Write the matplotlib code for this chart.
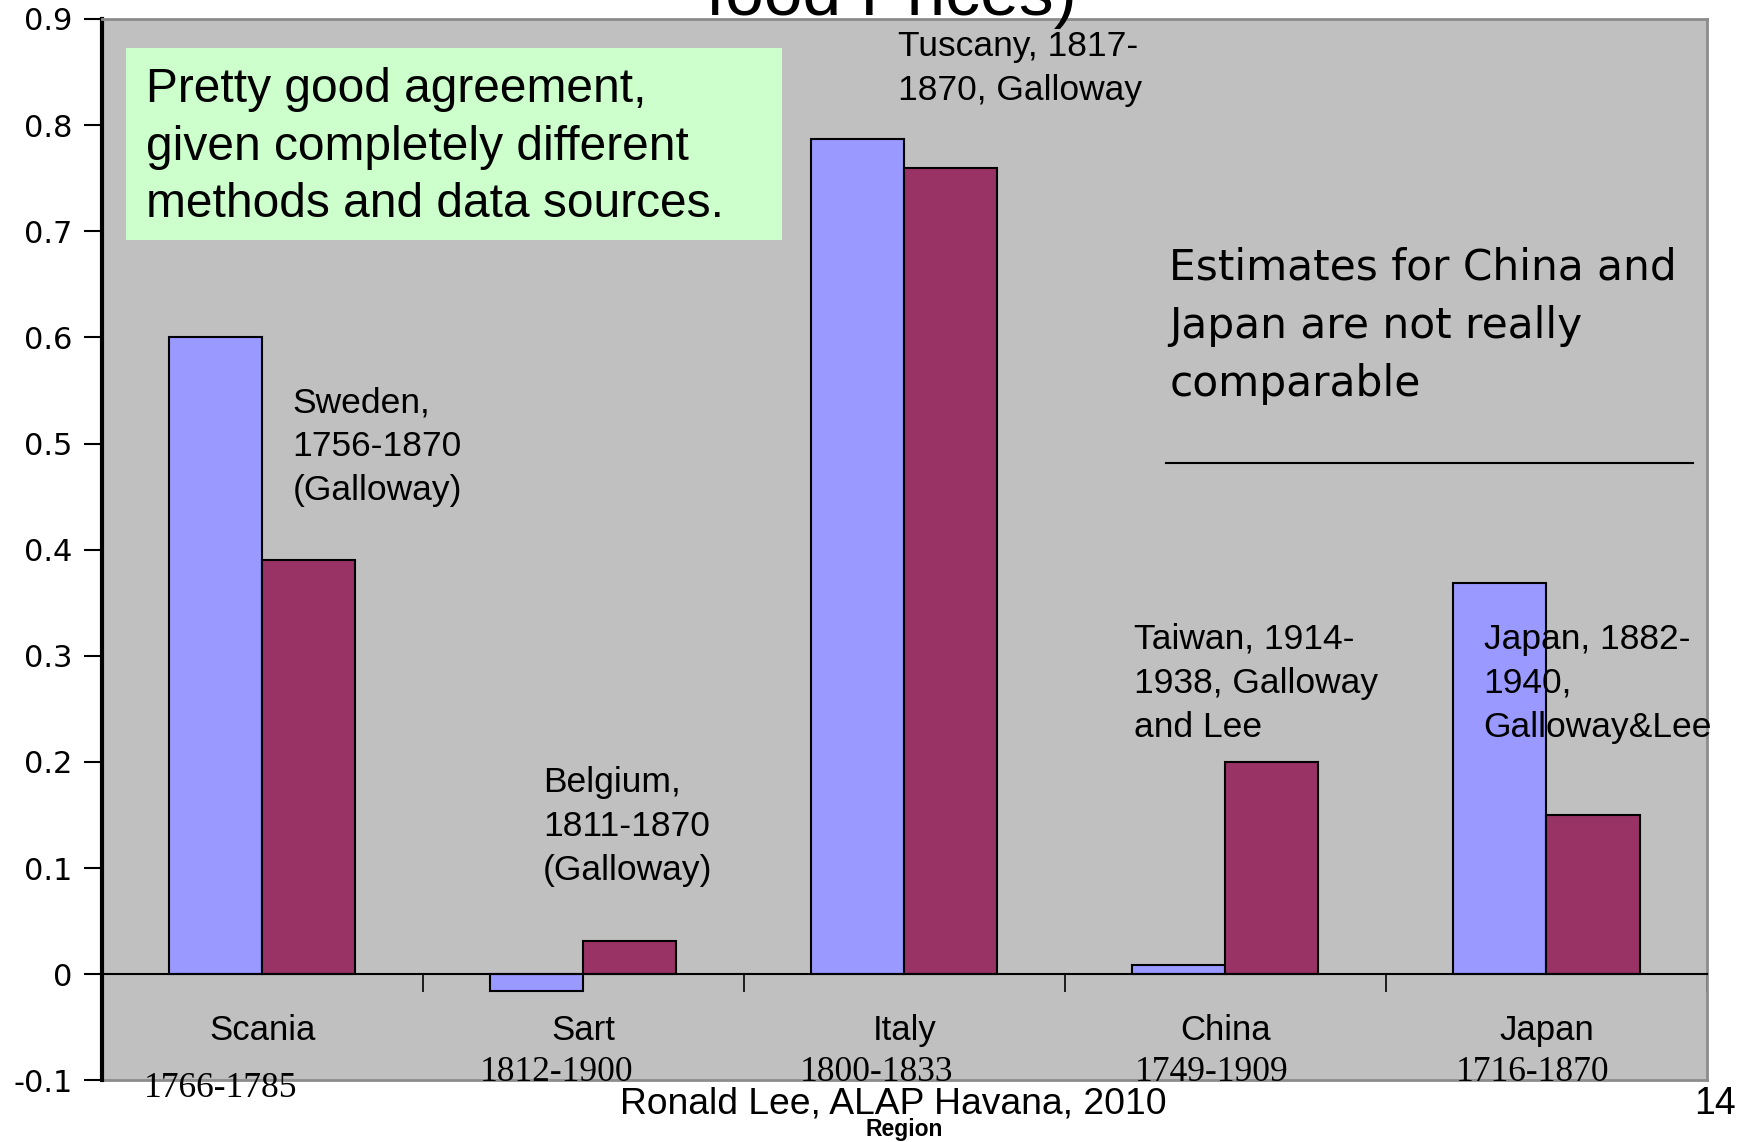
import matplotlib
matplotlib.use("Agg")
import matplotlib.pyplot as plt
from matplotlib.patches import Rectangle

regions = ["Scania", "Sart", "Italy", "China", "Japan"]
periods = ["1766-1785", "1812-1900", "1800-1833", "1749-1909", "1716-1870"]
series_a = [0.600, -0.016, 0.787, 0.009, 0.369]
series_b = [0.390, 0.031, 0.760, 0.200, 0.150]
yticks = [-0.1, 0, 0.1, 0.2, 0.3, 0.4, 0.5, 0.6, 0.7, 0.8, 0.9]
ytick_labels = ["-0.1", "0", "0.1", "0.2", "0.3", "0.4", "0.5", "0.6", "0.7", "0.8", "0.9"]

BLUE = "#9999FF"
RED = "#993366"
BG = "#C0C0C0"
SANS = ["Liberation Sans", "DejaVu Sans"]

fig = plt.figure(figsize=(17.52, 11.42), dpi=100)
ax = fig.add_axes([0.058, 0.054, 0.9163, 0.9294])
ax.set_facecolor(BG)

x = list(range(len(regions)))
w = 0.29
ax.bar([i - w / 2 for i in x], series_a, width=w, color=BLUE, edgecolor="black", linewidth=1.5, zorder=3)
ax.bar([i + w / 2 for i in x], series_b, width=w, color=RED, edgecolor="black", linewidth=1.5, zorder=3)

ax.set_xlim(-0.5, 4.5)
ax.set_ylim(-0.1, 0.9)
ax.set_yticks(yticks)
ax.set_yticklabels(ytick_labels, fontsize=22, family="DejaVu Sans")
ax.tick_params(axis="y", direction="out", length=13, width=1.5, pad=8)

# x axis at zero with boundary ticks
ax.spines["bottom"].set_position(("data", 0))
ax.spines["bottom"].set_linewidth(1.5)
ax.spines["bottom"].set_zorder(4)
ax.set_xticks([0.5, 1.5, 2.5, 3.5, 4.5])
ax.set_xticklabels([])
ax.tick_params(axis="x", direction="out", length=13, width=1.2)
ax.spines["left"].set_linewidth(3)
for s in ["top", "right"]:
    ax.spines[s].set_color("#8C8C8C")
    ax.spines[s].set_linewidth(2)
ax.axhline(-0.1, color="#8C8C8C", lw=2, clip_on=False)

# category labels
for i, r in enumerate(regions):
    ax.text(i, -0.053, r, ha="center", va="center", fontsize=25, family=SANS)
period_pos = [(-0.128, -0.108), (0.916, -0.093), (1.915, -0.093), (2.958, -0.093), (3.957, -0.093)]
for (px, py), p in zip(period_pos, periods):
    ax.text(px, py, p, ha="center", va="center", fontsize=25.5, family=["Liberation Serif", "DejaVu Serif"],
            clip_on=False)

# annotations
ann_kw = dict(ha="left", va="center", fontsize=25.5, family=SANS, linespacing=1.42, zorder=5)
ax.text(0.095, 0.497, "Sweden,\n1756-1870\n(Galloway)", **ann_kw)
ax.text(1.981, 0.853, "Tuscany, 1817-\n1870, Galloway", **ann_kw)
ax.text(0.874, 0.139, "Belgium,\n1811-1870\n(Galloway)", **ann_kw)
ax.text(2.715, 0.274, "Taiwan, 1914-\n1938, Galloway\nand Lee", **ann_kw)
ax.text(3.804, 0.274, "Japan, 1882-\n1940,\nGalloway&Lee", **ann_kw)

ax.text(2.826, 0.611, "Estimates for China and\nJapan are not really\ncomparable",
        ha="left", va="center", fontsize=30.4, family="DejaVu Sans", linespacing=1.5, zorder=5)
ax.plot([2.816, 4.458], [0.482, 0.482], color="black", lw=1.5, zorder=5)

ax.add_patch(Rectangle((-0.4235, 0.6916), 1.619 + 0.4235, 0.8726 - 0.6916,
                       facecolor="#CCFFCC", edgecolor="none", zorder=4))
ax.text(-0.361, 0.779, "Pretty good agreement,\ngiven completely different\nmethods and data sources.",
        ha="left", va="center", fontsize=34.5, family=SANS, linespacing=1.36, zorder=5)

# figure texts
fig.text(0.5086, 0.9873, "food Prices)", ha="center", va="baseline", fontsize=50, family=SANS)
fig.text(0.5100, 0.0333, "Ronald Lee, ALAP Havana, 2010", ha="center", va="center", fontsize=26.8, family=SANS)
fig.text(0.979, 0.0333, "14", ha="center", va="center", fontsize=27, family=SANS)
fig.text(0.516, 0.0108, "Region", ha="center", va="center", fontsize=16.5, fontweight="bold", family=SANS)

fig.savefig("out.png", dpi=100, facecolor="white")
